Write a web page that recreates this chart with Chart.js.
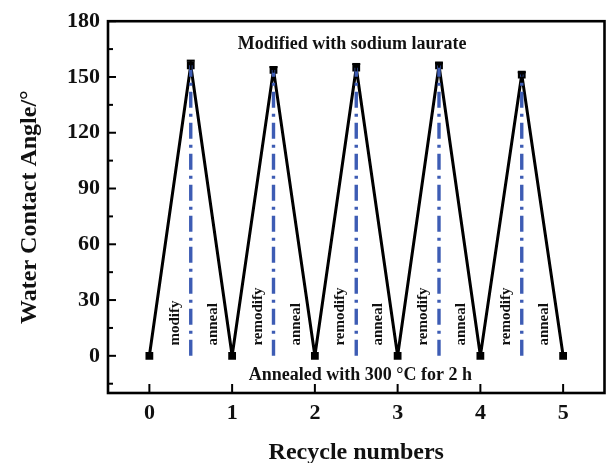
<!DOCTYPE html>
<html><head><meta charset="utf-8">
<script src="https://cdn.jsdelivr.net/npm/chart.js@4"></script>
<style>html,body{margin:0;padding:0;background:#fff}</style>
</head><body>
<canvas id="c" width="610" height="463"></canvas>
<script>
// ---- data ----
const cycles = [0, 0.5, 1, 1.5, 2, 2.5, 3, 3.5, 4, 4.5, 5];
const contactAngle = [0, 156.3, 0, 153.8, 0, 155.0, 0, 156.2, 0, 151.3, 0];
const errorBar = [0, 2.5, 0, 1.5, 0, 2.0, 0, 1.2, 0, 1.2, 0];
const xTicks = [0, 1, 2, 3, 4, 5];
const yTicks = [0, 30, 60, 90, 120, 150, 180];
const yMinorTicks = [-15, 15, 45, 75, 105, 135, 165];
const stepLabels = ['modify', 'anneal', 'remodify', 'anneal', 'remodify', 'anneal', 'remodify', 'anneal', 'remodify', 'anneal'];
const topNote = 'Modified with sodium laurate';
const bottomNote = 'Annealed with 300 °C for 2 h';
const xTitle = 'Recycle numbers';
const yTitle = 'Water Contact Angle/°';

const FONT = '"Liberation Serif", "Times New Roman", serif';
const BLUE = '#3d5cb4';

const mainPoints = cycles.map((x, i) => ({x, y: contactAngle[i]}));
const guideSets = [];
cycles.forEach((x, i) => {
  if (i % 2 === 1) {
    guideSets.push({
      data: [{x, y: 0}, {x, y: contactAngle[i]}],
      borderColor: BLUE, borderWidth: 3.4, borderDash: [16, 6, 3, 6],
      pointRadius: 0, fill: false, showLine: true
    });
  }
});

const decor = {
  id: 'decor',
  afterDatasetsDraw(chart) {
    const ctx = chart.ctx, xs = chart.scales.x, ys = chart.scales.y, a = chart.chartArea;
    ctx.save();
    ctx.strokeStyle = '#000'; ctx.lineWidth = 2;
    cycles.forEach((x, i) => {
      if (!errorBar[i]) return;
      const px = xs.getPixelForValue(x);
      const y1 = ys.getPixelForValue(contactAngle[i] + errorBar[i]);
      const y2 = ys.getPixelForValue(contactAngle[i] - errorBar[i]);
      ctx.beginPath(); ctx.moveTo(px, y1); ctx.lineTo(px, y2); ctx.stroke();
      ctx.beginPath(); ctx.moveTo(px - 4, y1); ctx.lineTo(px + 4, y1); ctx.stroke();
    });
    ctx.lineWidth = 2.6; ctx.strokeStyle = '#000';
    ctx.strokeRect(a.left, a.top, a.right - a.left, a.bottom - a.top);
    ctx.lineWidth = 2;
    yTicks.forEach(v => { const p = ys.getPixelForValue(v); ctx.beginPath(); ctx.moveTo(a.left, p); ctx.lineTo(a.left + 8, p); ctx.stroke(); });
    yMinorTicks.forEach(v => { const p = ys.getPixelForValue(v); ctx.beginPath(); ctx.moveTo(a.left, p); ctx.lineTo(a.left + 5, p); ctx.stroke(); });
    xTicks.forEach(v => { const p = xs.getPixelForValue(v); ctx.beginPath(); ctx.moveTo(p, a.bottom); ctx.lineTo(p, a.bottom - 9); ctx.stroke(); });
    ctx.fillStyle = '#111';
    ctx.font = 'bold 18px ' + FONT;
    ctx.textAlign = 'center'; ctx.textBaseline = 'middle';
    ctx.fillText(topNote, xs.getPixelForValue(2.45), ys.getPixelForValue(167.5));
    ctx.fillText(bottomNote, xs.getPixelForValue(2.55), ys.getPixelForValue(-10.5));
    ctx.font = 'bold 15px ' + FONT;
    ctx.textAlign = 'left';
    stepLabels.forEach((t, k) => {
      const cyc = Math.floor(k / 2);
      const off = (k % 2 === 0) ? 0.31 : 0.77;
      const px = xs.getPixelForValue(cyc + off);
      const py = ys.getPixelForValue(5.5);
      ctx.save(); ctx.translate(px, py); ctx.rotate(-Math.PI / 2);
      ctx.fillText(t, 0, 0); ctx.restore();
    });
    ctx.restore();
  }
};

new Chart(document.getElementById('c'), {
  type: 'scatter',
  data: {
    datasets: [
      ...guideSets,
      {
        data: mainPoints, showLine: true, borderColor: '#000', borderWidth: 3,
        borderJoinStyle: 'round',
        pointStyle: 'rect', pointRadius: 5.5, pointBackgroundColor: '#000', pointBorderColor: '#000',
        pointBorderWidth: 0, tension: 0, fill: false
      }
    ]
  },
  options: {
    responsive: false, animation: false,
    layout: {padding: {top: 20, right: 3, left: 0, bottom: 0}},
    plugins: {legend: {display: false}, tooltip: {enabled: false}},
    scales: {
      x: {
        type: 'linear', min: -0.5, max: 5.5,
        afterBuildTicks: s => { s.ticks = xTicks.map(v => ({value: v})); },
        afterFit: s => { s.height = 70; },
        grid: {display: false, drawTicks: false}, border: {display: false},
        ticks: {padding: 7, color: '#111', font: {family: FONT, size: 22, weight: 'bold'}},
        title: {display: true, text: xTitle, color: '#111', padding: {top: 0, bottom: 0},
          font: {family: FONT, size: 24, weight: 'bold', lineHeight: 0.82}}
      },
      y: {
        type: 'linear', min: -20, max: 180,
        afterBuildTicks: s => { s.ticks = yTicks.map(v => ({value: v})); },
        afterFit: s => { s.width = 108; },
        grid: {display: false, drawTicks: false}, border: {display: false},
        ticks: {padding: 8, color: '#111', font: {family: FONT, size: 22, weight: 'bold'}},
        title: {display: true, text: yTitle, color: '#111', padding: {top: 15, bottom: 0},
          font: {family: FONT, size: 24, weight: 'bold', lineHeight: 1.2}}
      }
    }
  },
  plugins: [decor]
});
</script>
</body></html>
